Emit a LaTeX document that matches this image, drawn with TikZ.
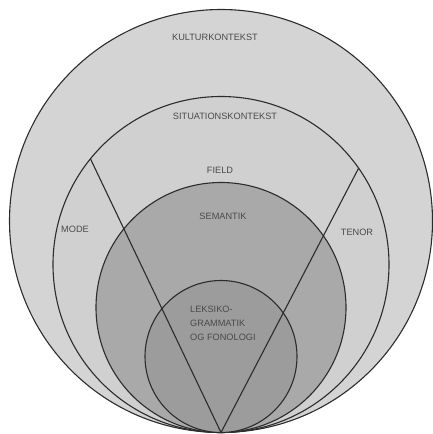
\documentclass[tikz,border=0pt]{standalone}
\usepackage{fontspec}
\setmainfont{Liberation Sans}
\usepackage{tikz}
\usetikzlibrary{positioning,shapes}
\definecolor{kulturgray}{HTML}{D4D4D4}
\definecolor{situgray}{HTML}{D0D0D0}
\definecolor{semgray}{HTML}{A9A9A9}
\definecolor{leksgray}{HTML}{9C9C9C}
\definecolor{rimgray}{HTML}{2C2C2C}
\definecolor{labelgray}{HTML}{4A4A4A}
\tikzset{
    ring/.style={
        circle,
        draw=rimgray,
        line width=1.1pt,
        inner sep=0pt,
        outer sep=0pt
    },
    divider/.style={draw=rimgray, line width=1.1pt},
    label text/.style={
        text=labelgray,
        inner sep=1pt,
        font={\fontsize{9.2pt}{14pt}\selectfont}
    },
}

\begin{document}
\begin{tikzpicture}[x=1pt,y=-1pt]
        \useasboundingbox (0,0) rectangle (432,434);

        % Nested circles, all touching at the bottom
        \node[ring, fill=kulturgray, minimum size=423pt] (kultur) at (221,221) {};
        \node[ring, fill=situgray, minimum size=336pt]   (situ)   at (221,264.5) {};
        \node[ring, fill=semgray, minimum size=250pt]    (sem)    at (221,307.5) {};
        \node[ring, fill=leksgray, minimum size=152pt]   (leks)   at (221,356.5) {};

        % Field, mode and tenor are split off from the bottom point
        \coordinate (apex) at (kultur.south);
        \draw[divider] (apex) -- (situ.141);
        \draw[divider] (apex) -- (situ.35);

        % Labels
        \node[label text] (kulturlbl) at (215,37)  {KULTURKONTEKST};
        \node[label text] (situlbl)   at (225,116) {SITUATIONSKONTEKST};
        \node[label text] (fieldlbl)  at (220,170) {FIELD};
        \node[label text] (semlbl)    at (223,216) {SEMANTIK};
        \node[label text] (modelbl)   at (75,229)  {MODE};
        \node[label text] (tenorlbl)  at (357,232) {TENOR};
        \node[label text, align=left, anchor=north west] (lekslbl) at (189,305)
            {LEKSIKO-\\GRAMMATIK\\OG FONOLOGI};
\end{tikzpicture}
\end{document}
